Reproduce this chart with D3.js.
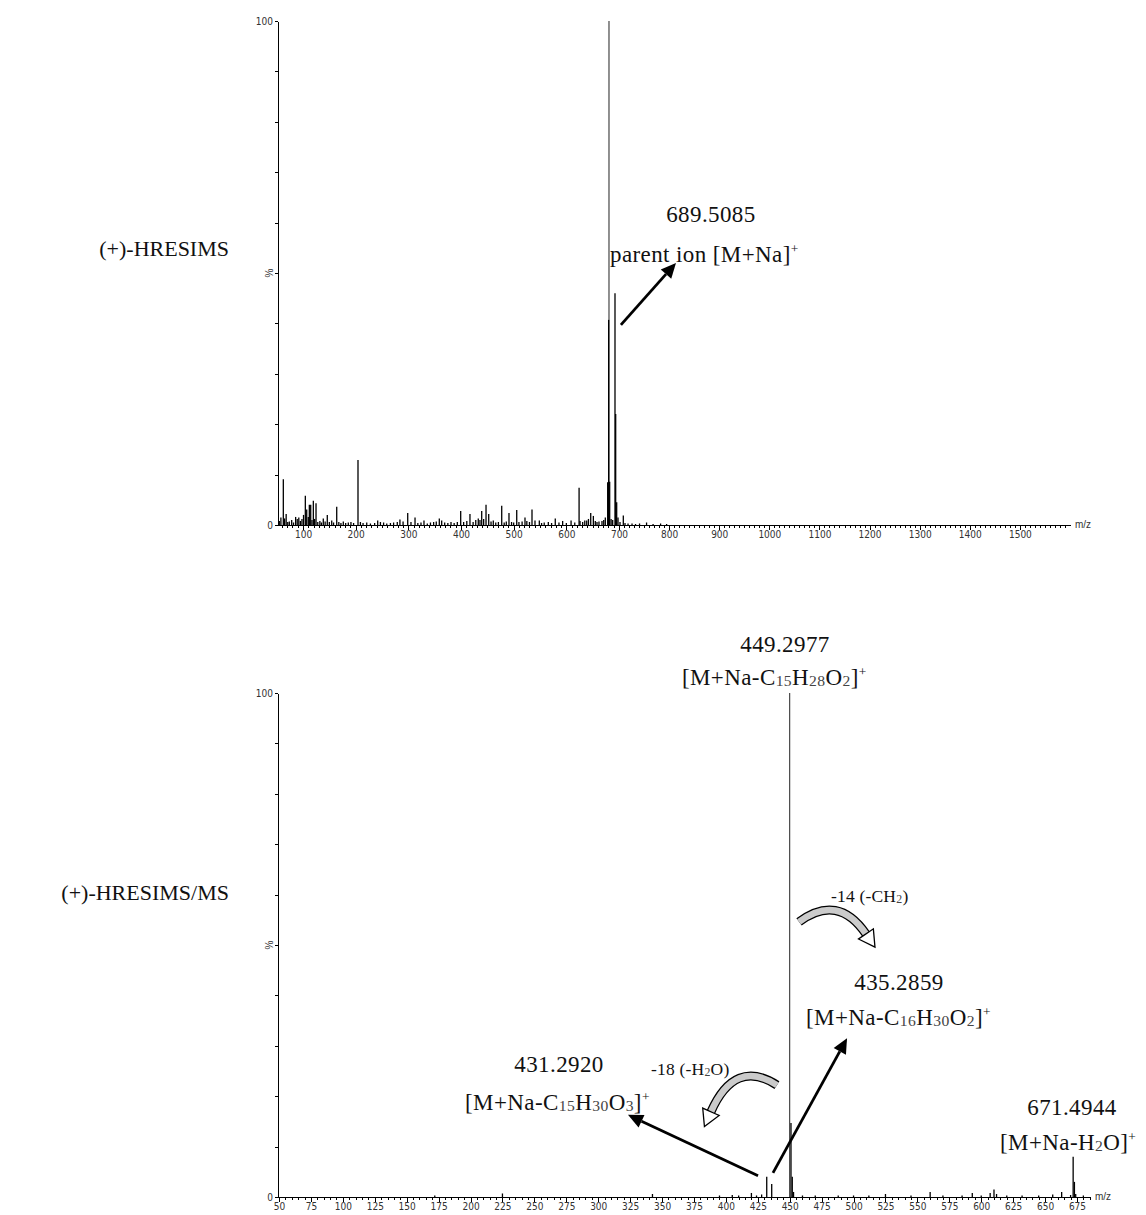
<!DOCTYPE html>
<html lang="en">
<head>
<meta charset="utf-8">
<title>(+)-HRESIMS and (+)-HRESIMS/MS spectra</title>
<script src="https://d3js.org/d3.v7.min.js"></script>
<style>
  body { margin: 0; background: #fff; }
  .axis text { font-family: "Liberation Sans Narrow", "DejaVu Sans Condensed", "Liberation Sans", sans-serif; font-size: 10px; fill: #333; }
  .axis path, .axis line { stroke: #000; shape-rendering: crispEdges; }
  .ann { font-family: "Liberation Serif", "Times New Roman", serif; fill: #111; }
</style>
</head>
<body>
<svg id="chart" width="1146" height="1215"></svg>
<script>
// peaks: [m/z, relative intensity %]
const topPeaks = [
  [55, 0.8], [58, 1.5], [62.6, 9.1], [65, 1.3], [68, 2.2], [71, 0.6], [74, 0.7], [78.5, 1.0],
  [82, 0.5], [86, 1.6], [89, 1.2], [92, 1.5], [95, 0.8], [98, 1.2], [101, 2.0], [104.4, 5.8],
  [107, 3.1], [110, 1.6], [112, 4.0], [114.6, 4.0], [117, 1.0], [119.6, 4.8], [122, 1.2], [124.7, 4.3],
  [128, 0.6], [132, 0.8], [135, 0.5], [138.5, 1.3], [142, 0.7], [146.1, 2.0], [150, 0.6], [154.5, 0.9],
  [158, 0.5], [164, 3.6], [168, 0.6], [172, 0.4], [176.5, 0.7], [181, 0.4], [186, 0.5], [191, 0.6],
  [196, 0.4], [204.4, 12.9], [209, 0.6], [214, 0.4], [221, 0.5], [228, 0.3], [236, 0.4], [241.8, 0.9],
  [247, 0.6], [253, 0.5], [259, 0.3], [266, 0.4], [272, 0.5], [279, 0.6], [284, 1.1], [290, 0.7],
  [298.8, 2.4], [305, 0.6], [312.7, 1.5], [318, 0.4], [324, 0.5], [329.7, 0.9], [336, 0.3], [342, 0.5],
  [348, 0.6], [353, 0.7], [358.8, 1.3], [363.3, 0.9], [369, 0.5], [375, 0.4], [381, 0.6], [387, 0.4],
  [393, 0.6], [399.4, 2.8], [405, 0.6], [411, 0.8], [417, 2.2], [423, 0.6], [428, 1.0], [432.8, 1.3],
  [436, 1.0], [439.3, 2.8], [443, 1.2], [447.5, 4.0], [452.6, 2.2], [457, 0.7], [461.3, 0.9], [466, 0.5],
  [471, 0.6], [477.3, 3.8], [482, 0.5], [486, 0.7], [491.1, 2.4], [496, 0.6], [500, 0.5], [505.8, 3.0],
  [510, 0.6], [516, 0.7], [521.5, 1.5], [525, 0.8], [530, 0.6], [534.8, 3.1], [540.5, 0.9], [548.7, 0.9],
  [553, 0.4], [558, 0.5], [565.8, 0.6], [572, 0.4], [579, 1.3], [586, 0.5], [593, 0.8], [600, 0.4],
  [609, 0.9], [616, 0.5], [624.2, 7.4], [626, 0.8], [631, 0.6], [635, 0.9], [638.7, 0.9], [642, 1.2],
  [646.3, 2.4], [651.3, 1.8], [655, 0.8], [658.2, 0.6], [662, 0.7], [667.7, 0.8], [671, 1.0], [674, 1.5],
  [678.5, 8.5], [681, 100], [680.3, 40.7], [682.3, 8.6], [685, 1.2], [688, 1.0], [692.4, 46], [693.7, 22],
  [695.6, 4.5], [698.1, 1.5], [702, 0.6], [708.6, 1.9], [712, 0.4], [718, 0.3], [726, 0.3], [733, 0.2],
  [741, 0.3], [755, 0.5], [768, 0.2], [783, 0.3], [795, 0.2]
];
const bottomPeaks = [
  [172, 0.3], [225, 0.7], [342.5, 0.6], [395, 0.3], [405, 0.4], [410, 0.3], [420, 0.8], [424, 0.3],
  [428, 0.5], [432, 4.0], [435.9, 2.6], [450, 100], [451, 14.7], [452, 4.0], [453, 1.0], [460, 0.3],
  [470, 0.3], [488, 0.3], [500, 0.3], [512, 0.3], [525, 0.6], [545, 0.3], [560, 1.0], [570, 0.3],
  [585, 0.3], [593, 0.8], [600, 0.3], [607, 0.8], [610, 1.5], [612, 0.6], [620, 0.3], [632, 0.3],
  [645, 0.3], [656, 0.5], [663, 1.0], [670, 0.4], [672, 8.0], [673, 3.0], [674, 0.6], [680, 0.3]
];
const topTicks = [100, 200, 300, 400, 500, 600, 700, 800, 900, 1000, 1100, 1200, 1300, 1400, 1500];
const bottomTicks = [50, 75, 100, 125, 150, 175, 200, 225, 250, 275, 300, 325, 350, 375, 400, 425,
  450, 475, 500, 525, 550, 575, 600, 625, 650, 675];
const yTicks = [0, 10, 20, 30, 40, 50, 60, 70, 80, 90, 100];

// annotations, placed in data units (m/z, %)
const topTitle = "(+)-HRESIMS";
const bottomTitle = "(+)-HRESIMS/MS";
const topLabels = [
  { at: [883.5, 60.1], anchor: "middle", parts: [["689.5085"]] },
  { at: [682.9, 52.2], anchor: "start", parts: [["parent ion [M+Na]"], ["+", "sup"]] }
];
const bottomLabels = [
  { at: [446.3, 108.1], anchor: "middle", parts: [["449.2977"]] },
  { at: [365.6, 101.6], anchor: "start", parts: [["[M+Na-C"], ["15", "sub"], ["H"], ["28", "sub"], ["O"], ["2", "sub"], ["]"], ["+", "sup"]] },
  { at: [482.3, 58.5], anchor: "start", small: true, parts: [["-14 (-CH"], ["2", "sub"], [")"]] },
  { at: [535.6, 41.1], anchor: "middle", parts: [["435.2859"]] },
  { at: [462.8, 34.1], anchor: "start", parts: [["[M+Na-C"], ["16", "sub"], ["H"], ["30", "sub"], ["O"], ["2", "sub"], ["]"], ["+", "sup"]] },
  { at: [341.4, 24.2], anchor: "start", small: true, parts: [["-18 (-H"], ["2", "sub"], ["O)"]] },
  { at: [269.3, 24.8], anchor: "middle", parts: [["431.2920"]] },
  { at: [195.7, 17.3], anchor: "start", parts: [["[M+Na-C"], ["15", "sub"], ["H"], ["30", "sub"], ["O"], ["3", "sub"], ["]"], ["+", "sup"]] },
  { at: [671.1, 16.3], anchor: "middle", parts: [["671.4944"]] },
  { at: [614.7, 9.3], anchor: "start", parts: [["[M+Na-H"], ["2", "sub"], ["O]"], ["+", "sup"]] }
];
const topArrows = [ [[703.8, 39.7], [813.7, 52.0]] ];
const bottomArrows = [ [[425.2, 4.2], [323.3, 16.3]], [[436.9, 4.8], [494.9, 31.5]] ];
const bottomCurves = [
  [[457.3, 54.6], [487.8, 60.3], [509.7, 52.2]],
  [[440.0, 22.2], [407.1, 27.6], [388.3, 16.9]]
];

const svg = d3.select("#chart");

// top panel scales (the printed axis is slightly stretched below 700)
const xTop = d3.scaleLinear().domain([52.5, 700, 1600]).range([278, 619, 1070]);
const yTop = d3.scaleLinear().domain([0, 100]).range([525, 21]);
const xBot = d3.scaleLinear().domain([49.2, 685.2]).range([278, 1090]);
const yBot = d3.scaleLinear().domain([0, 100]).range([1197, 693]);

function richText(g, x, y, item) {
  const size = item.small ? 17.5 : 23;
  const t = g.append("text").attr("class", "ann").attr("x", x).attr("y", y)
    .attr("text-anchor", item.anchor).style("font-size", size + "px")
    .style("letter-spacing", item.small ? "0.2px" : "0.4px");
  let shift = 0;
  item.parts.forEach(([s, kind]) => {
    let target = 0, fs = size;
    if (kind === "sub") { target = 1; fs = size * 0.68; }
    if (kind === "sup") { target = -size * 0.4; fs = size * 0.58; }
    t.append("tspan").attr("dy", target - shift).style("font-size", fs + "px")
      .style("fill", kind === "sub" ? "#444" : null).text(s);
    shift = target;
  });
}

function arrow(g, from, to) {
  const dx = to[0] - from[0], dy = to[1] - from[1], L = Math.hypot(dx, dy);
  const ux = dx / L, uy = dy / L, nx = -uy, ny = ux, hl = 15, hw = 7;
  const base = [to[0] - ux * hl, to[1] - uy * hl];
  g.append("line").attr("x1", from[0]).attr("y1", from[1]).attr("x2", base[0]).attr("y2", base[1])
    .attr("stroke", "#000").attr("stroke-width", 2.8);
  g.append("path")
    .attr("d", `M${to}L${base[0] + nx * hw},${base[1] + ny * hw}L${base[0] - nx * hw},${base[1] - ny * hw}Z`)
    .attr("fill", "#000");
}

function curvedArrow(g, p0, c, p1) {
  const d = `M${p0}Q${c} ${p1}`;
  g.append("path").attr("d", d).attr("fill", "none").attr("stroke", "#000").attr("stroke-width", 9);
  g.append("path").attr("d", d).attr("fill", "none").attr("stroke", "#cbcbcb").attr("stroke-width", 6.5);
  const dx = p1[0] - c[0], dy = p1[1] - c[1], L = Math.hypot(dx, dy);
  const ux = dx / L, uy = dy / L, nx = -uy, ny = ux;
  const tip = [p1[0] + ux * 16, p1[1] + uy * 16];
  g.append("path")
    .attr("d", `M${tip}L${p1[0] + nx * 9},${p1[1] + ny * 9}L${p1[0] + nx * 3.5},${p1[1] + ny * 3.5}` +
      `L${p1[0] - nx * 3.5},${p1[1] - ny * 3.5}L${p1[0] - nx * 9},${p1[1] - ny * 9}Z`)
    .attr("fill", "#fff").attr("stroke", "#000").attr("stroke-width", 1.3);
}

function drawPanel(x, y, peaks, ticks, minorStep, title, titleY, labels, arrows, curves) {
  const g = svg.append("g");
  const dom = x.domain(), x0 = dom[0], x1 = dom[dom.length - 1];
  const base = y(0);

  // minor + major ticks on m/z axis
  g.append("g").attr("class", "axis").attr("transform", `translate(0,${base})`)
    .call(d3.axisBottom(x).tickValues(d3.range(Math.ceil(x0 / minorStep) * minorStep, x1, minorStep))
      .tickSize(3).tickSizeOuter(0).tickFormat(""));
  g.append("g").attr("class", "axis").attr("transform", `translate(0,${base})`)
    .call(d3.axisBottom(x).tickValues(ticks).tickSize(5).tickSizeOuter(0).tickPadding(1)
      .tickFormat(d3.format("d")))
    .call(a => a.select(".domain").remove());

  // intensity axis
  g.append("g").attr("class", "axis").attr("transform", `translate(${x(x0)},0)`)
    .call(d3.axisLeft(y).tickValues(yTicks).tickSize(3).tickSizeOuter(0).tickPadding(2)
      .tickFormat(d => (d === 0 || d === 100) ? d : ""));
  g.append("text")
    .attr("transform", `translate(${x(x0) - 6},${y(50)}) rotate(-90)`)
    .attr("text-anchor", "middle").attr("dy", "0.1em")
    .style("font-family", "'Liberation Sans', sans-serif").style("font-size", "10px").style("fill", "#333")
    .text("%");
  g.append("text").attr("x", x(x1) + 5).attr("y", base + 3)
    .style("font-family", "'Liberation Sans', sans-serif").style("font-size", "10px").style("fill", "#333")
    .text("m/z");

  // peaks
  g.append("g").selectAll("line").data(peaks).join("line")
    .attr("x1", d => x(d[0])).attr("x2", d => x(d[0]))
    .attr("y1", base).attr("y2", d => y(d[1]))
    .attr("stroke", d => d[1] > 60 ? "#222" : "#000")
    .attr("stroke-width", d => d[1] > 60 ? 1 : 1.3);

  // title
  g.append("text").attr("class", "ann").attr("x", x(x0) - 49).attr("y", titleY)
    .attr("text-anchor", "end").style("font-size", "22px").text(title);

  labels.forEach(l => richText(g, x(l.at[0]), y(l.at[1]), l));
  arrows.forEach(([a, b]) => arrow(g, [x(a[0]), y(a[1])], [x(b[0]), y(b[1])]));
  curves.forEach(([p, c, q]) => curvedArrow(g, [x(p[0]), y(p[1])], [x(c[0]), y(c[1])], [x(q[0]), y(q[1])]));
}

drawPanel(xTop, yTop, topPeaks, topTicks, 10, topTitle, 256, topLabels, topArrows, []);
drawPanel(xBot, yBot, bottomPeaks, bottomTicks, 5, bottomTitle, 900, bottomLabels, bottomArrows, bottomCurves);
</script>
</body>
</html>
